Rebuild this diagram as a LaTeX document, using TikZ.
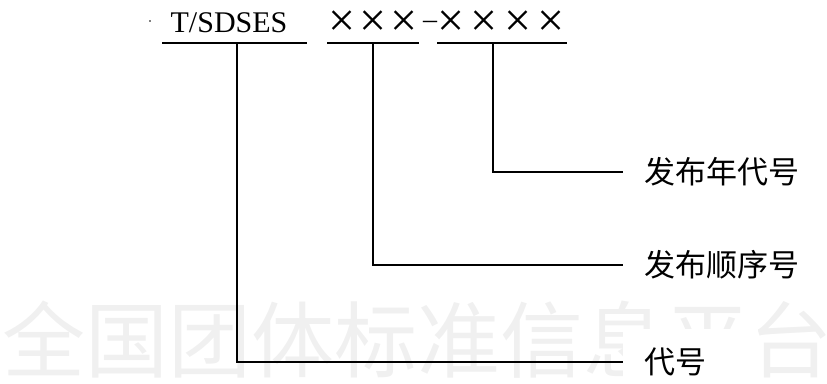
\documentclass[tikz,border=0pt]{standalone}
\usepackage{fontspec}
\setmainfont{Liberation Serif}
\newfontfamily\cjk{Noto Sans CJK SC}
\begin{document}
\begin{tikzpicture}[x=1pt,y=-1pt,
  conn/.style={line width=1.5pt, black},
  uline/.style={line width=2pt, black},
  lab/.style={anchor=west, inner xsep=21pt, inner ysep=0pt, font=\cjk\fontsize{31}{31}\selectfont},
  xmark/.style={inner sep=0pt, font=\fontsize{48}{48}\selectfont},
  wmark/.style={anchor=north west, inner sep=0pt, text=black!6, font=\cjk\fontsize{83}{83}\selectfont}]
\useasboundingbox (0,0) rectangle (827,383);
% watermark
\node[wmark] (wm) at (2,301) {全国团体标准信息平台};
\fill[white] (623,329) rectangle (758,383);
% code text
\fill (150,21) circle (0.8pt);
\node[anchor=base, inner sep=0pt, font=\fontsize{30}{30}\selectfont] (code) at (229,32) {T/SDSES};
\foreach \i/\x in {1/342,2/373,3/404.5}
  \node[xmark] (xa\i) at (\x,24) {×};
\node[inner sep=0pt, font=\fontsize{28}{28}\selectfont] (dash) at (430,25) {–};
\foreach \i/\x in {1/451,2/484.5,3/518,4/551}
  \node[xmark] (xb\i) at (\x,24) {×};
% underlines
\coordinate (u1a) at (162,43); \coordinate (u1b) at (307,43);
\coordinate (u2a) at (327,43); \coordinate (u2b) at (419,43);
\coordinate (u3a) at (437,43); \coordinate (u3b) at (567,43);
\draw[uline] (u1a) -- (u1b);
\draw[uline] (u2a) -- (u2b);
\draw[uline] (u3a) -- (u3b);
\coordinate (t1) at (237,43);
\coordinate (t2) at (373,43);
\coordinate (t3) at (493,43);
% labels
\node[lab] (l3) at (623,172) {发布年代号};
\node[lab] (l2) at (623,265) {发布顺序号};
\node[lab] (l1) at (623,362) {代号};
% connectors
\draw[conn] (t3) |- (l3.west);
\draw[conn] (t2) |- (l2.west);
\draw[conn] (t1) |- (l1.west);
\end{tikzpicture}
\end{document}
